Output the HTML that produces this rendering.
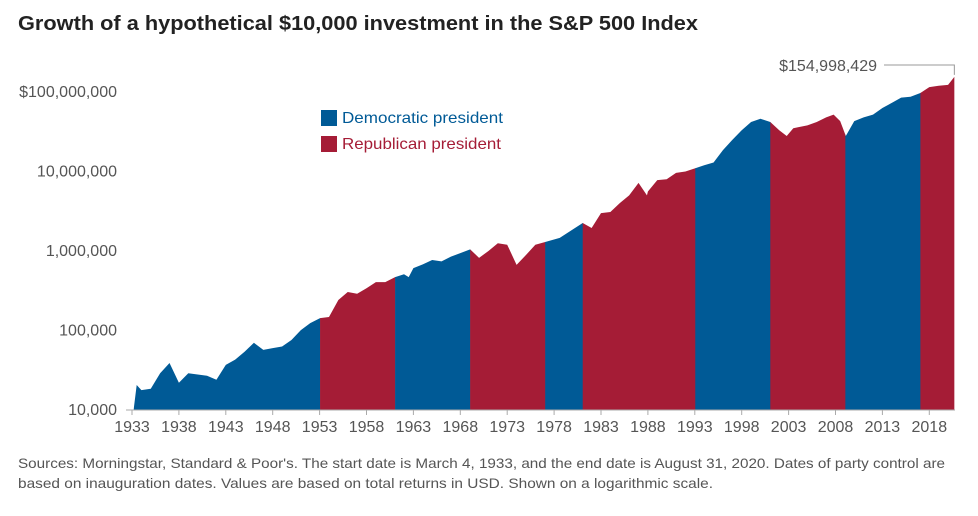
<!DOCTYPE html>
<html><head><meta charset="utf-8"><style>
body{margin:0;background:#fff;width:978px;height:511px;overflow:hidden;font-family:"Liberation Sans",sans-serif}
</style></head><body>
<svg id="chart" width="978" height="511" xmlns="http://www.w3.org/2000/svg" font-family="Liberation Sans, sans-serif">
<text x="18" y="30" font-size="20" font-weight="bold" fill="#222" textLength="680" lengthAdjust="spacingAndGlyphs">Growth of a hypothetical $10,000 investment in the S&amp;P 500 Index</text>
<g id="plot"></g>
<g>
<rect x="321" y="110" width="16" height="16" fill="#005a96"/>
<text x="342" y="123" font-size="16" fill="#005a96" textLength="161" lengthAdjust="spacingAndGlyphs">Democratic president</text>
<rect x="321" y="136" width="16" height="16" fill="#a51c36"/>
<text x="342" y="149" font-size="16" fill="#a51c36" textLength="159" lengthAdjust="spacingAndGlyphs">Republican president</text>
</g>
<text x="18" y="468" font-size="14" fill="#555" textLength="927" lengthAdjust="spacingAndGlyphs">Sources: Morningstar, Standard &amp; Poor's. The start date is March 4, 1933, and the end date is August 31, 2020. Dates of party control are</text>
<text x="18" y="488" font-size="14" fill="#555" textLength="695" lengthAdjust="spacingAndGlyphs">based on inauguration dates. Values are based on total returns in USD. Shown on a logarithmic scale.</text>
</svg>
<script>
const times=[1933.17,1933.5,1934,1935,1936,1937,1938,1939,1940,1941,1942,1943,1944,1945,1946,1947,1948,1949,1950,1951,1952,1953.05,1954,1955,1956,1957,1958,1959,1960,1961.05,1962,1962.5,1963,1964,1965,1966,1967,1968,1969.05,1970,1971,1972,1973,1974,1975,1976,1977.05,1978.6,1981.05,1982,1983,1984,1985,1986,1987,1987.9,1988,1989,1990,1991,1992,1993.05,1994,1995,1996,1997,1998,1999,2000,2001.05,2002,2002.8,2003.5,2004,2005,2006,2007,2007.8,2008.5,2009.1,2010,2011,2012,2013,2014,2015,2016,2017.05,2018,2019,2020,2020.67];
const values=[10000,20600,17800,18500,29000,39000,22000,29000,28000,27000,24000,37000,43000,54000,70000,57000,60000,63000,76000,101000,124000,143000,148000,242000,305000,290000,340000,406000,406000,470000,510000,470000,610000,680000,770000,740000,850000,940000,1050000,820000,1000000,1250000,1200000,670000,890000,1200000,1300000,1460000,2250000,1950000,3000000,3100000,4000000,5000000,7200000,5000000,5600000,7800000,8000000,9600000,10000000,11000000,12000000,13000000,18600000,25000000,33000000,42000000,46000000,42000000,33000000,28000000,35000000,36000000,38000000,42000000,48000000,52000000,43000000,28000000,43000000,48000000,52000000,63000000,73000000,85000000,87000000,97000000,115000000,120000000,123000000,154998429];
const termStarts=[1933.17,1953.05,1961.05,1969.05,1977.05,1981.05,1993.05,2001.05,2009.05,2017.05,2020.67];
const termParty=["D","R","D","R","D","R","D","R","D","R"];
const yTicks=[10000,100000,1000000,10000000,100000000];
const yTickLabels=["10,000","100,000","1,000,000","10,000,000","$100,000,000"];
const xTicks=[1933,1938,1943,1948,1953,1958,1963,1968,1973,1978,1983,1988,1993,1998,2003,2008,2013,2018];

const NS="http://www.w3.org/2000/svg";
const x=t=>132+(t-1933)*9.38;
const y=v=>410-79.5*Math.log10(v/10000);
const plot=document.getElementById('plot');
function mk(tag,attrs,parent){const e=document.createElementNS(NS,tag);for(const k in attrs)e.setAttribute(k,attrs[k]);(parent||plot).appendChild(e);return e;}
let d="M"+x(times[0])+","+y(10000);
times.forEach((t,i)=>{d+=" L"+x(t).toFixed(2)+","+y(values[i]).toFixed(2);});
d+=" L"+x(times[times.length-1])+","+y(10000)+" Z";
const defs=mk('defs',{});
for(let i=0;i<termParty.length;i++){
  const cp=mk('clipPath',{id:'cp'+i},defs);
  mk('rect',{x:x(termStarts[i]),y:0,width:x(termStarts[i+1])-x(termStarts[i])+0.3,height:420},cp);
  const p=mk('path',{d:d,fill:termParty[i]==="D"?"#005a96":"#a51c36","clip-path":"url(#cp"+i+")"});
  
  
}
const ax=mk('line',{x1:126,x2:955,y1:410,y2:410,stroke:"#aaa","stroke-width":1});


xTicks.forEach(t=>{
  const tk=mk('line',{x1:x(t),x2:x(t),y1:410,y2:415,stroke:"#aaa"});
  
  
  const lb=mk('text',{x:x(t),y:432,"font-size":16,fill:"#555","text-anchor":"middle"});
  lb.textContent=t;
  
  
});
yTicks.forEach((v,i)=>{
  const lb=mk('text',{x:117,y:y(v)+5,"font-size":16,fill:"#555","text-anchor":"end"});
  lb.textContent=yTickLabels[i];
  
  
});
const lastT=times[times.length-1],lastV=values[values.length-1];
const cl=mk('polyline',{points:`884,65 ${x(lastT)},65 ${x(lastT)},${y(lastV)-2}`,fill:"none",stroke:"#999"});


const ct=mk('text',{x:877,y:71,"font-size":16,fill:"#555","text-anchor":"end"});
ct.textContent="$"+lastV.toLocaleString('en-US');


</script>
</body></html>
